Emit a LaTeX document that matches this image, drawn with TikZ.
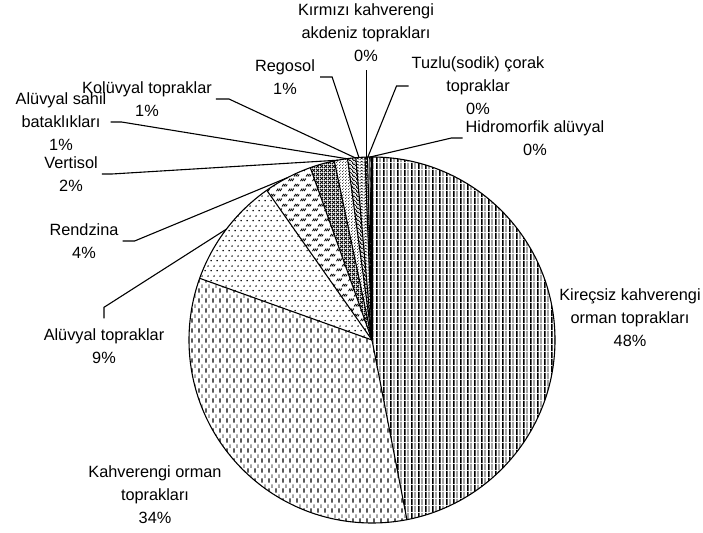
\documentclass[tikz,border=0pt]{standalone}
\usepackage{fontspec}
\setmainfont{Liberation Sans}
\usetikzlibrary{patterns}
% vertical stripes (thick + thin)
\pgfdeclarepatternformonly{kvstripes}{\pgfqpoint{0pt}{0pt}}{\pgfqpoint{6.6pt}{6.6pt}}{\pgfqpoint{6.6pt}{6.6pt}}{%
  \pgfsetlinewidth{1.6pt}%
  \pgfpathmoveto{\pgfqpoint{1pt}{0pt}}\pgfpathlineto{\pgfqpoint{1pt}{6.6pt}}\pgfusepath{stroke}%
  \pgfsetlinewidth{0.8pt}%
  \pgfpathmoveto{\pgfqpoint{4.3pt}{0pt}}\pgfpathlineto{\pgfqpoint{4.3pt}{6.6pt}}\pgfusepath{stroke}}
% dashed vertical
\pgfdeclarepatternformonly{kdashv}{\pgfqpoint{0pt}{0pt}}{\pgfqpoint{6.6pt}{10pt}}{\pgfqpoint{6.6pt}{10pt}}{%
  \pgfsetlinewidth{1.3pt}%
  \pgfpathmoveto{\pgfqpoint{1pt}{0.5pt}}\pgfpathlineto{\pgfqpoint{1pt}{5pt}}\pgfusepath{stroke}%
  \pgfsetlinewidth{0.7pt}%
  \pgfpathmoveto{\pgfqpoint{4.3pt}{5.5pt}}\pgfpathlineto{\pgfqpoint{4.3pt}{9.5pt}}\pgfusepath{stroke}}
% dots
\pgfdeclarepatternformonly{kdots}{\pgfqpoint{0pt}{0pt}}{\pgfqpoint{6.4pt}{10pt}}{\pgfqpoint{6.4pt}{10pt}}{%
  \pgfpathcircle{\pgfqpoint{1.2pt}{1.5pt}}{0.9pt}%
  \pgfpathcircle{\pgfqpoint{4.4pt}{6.5pt}}{0.9pt}%
  \pgfusepath{fill}}
% dashed upward diagonal
\pgfdeclarepatternformonly{kdiagdash}{\pgfqpoint{0pt}{0pt}}{\pgfqpoint{12pt}{10pt}}{\pgfqpoint{12pt}{10pt}}{%
  \pgfsetlinewidth{0.9pt}%
  \pgfpathmoveto{\pgfqpoint{0.5pt}{1pt}}\pgfpathlineto{\pgfqpoint{2.3pt}{3.8pt}}%
  \pgfpathmoveto{\pgfqpoint{2.5pt}{1pt}}\pgfpathlineto{\pgfqpoint{4.3pt}{3.8pt}}%
  \pgfpathmoveto{\pgfqpoint{4.5pt}{1pt}}\pgfpathlineto{\pgfqpoint{6.3pt}{3.8pt}}%
  \pgfpathmoveto{\pgfqpoint{6.5pt}{6pt}}\pgfpathlineto{\pgfqpoint{8.3pt}{8.8pt}}%
  \pgfpathmoveto{\pgfqpoint{8.5pt}{6pt}}\pgfpathlineto{\pgfqpoint{10.3pt}{8.8pt}}%
  \pgfpathmoveto{\pgfqpoint{10.5pt}{6pt}}\pgfpathlineto{\pgfqpoint{12pt}{8.3pt}}%
  \pgfusepath{stroke}}
% dark crosshatch
\pgfdeclarepatternformonly{kcross}{\pgfqpoint{0pt}{0pt}}{\pgfqpoint{4pt}{4pt}}{\pgfqpoint{4pt}{4pt}}{%
  \pgfsetlinewidth{1.1pt}%
  \pgfpathmoveto{\pgfqpoint{0pt}{0pt}}\pgfpathlineto{\pgfqpoint{4pt}{4pt}}%
  \pgfpathmoveto{\pgfqpoint{0pt}{4pt}}\pgfpathlineto{\pgfqpoint{4pt}{0pt}}%
  \pgfusepath{stroke}}
% light dotted grid
\pgfdeclarepatternformonly{ksahil}{\pgfqpoint{0pt}{0pt}}{\pgfqpoint{3pt}{3pt}}{\pgfqpoint{3pt}{3pt}}{%
  \pgfpathcircle{\pgfqpoint{0.75pt}{0.75pt}}{0.6pt}%
  \pgfpathcircle{\pgfqpoint{2.25pt}{2.25pt}}{0.6pt}%
  \pgfusepath{fill}}
% wide downward diagonal
\pgfdeclarepatternformonly{knw}{\pgfqpoint{0pt}{0pt}}{\pgfqpoint{3.5pt}{3.5pt}}{\pgfqpoint{3.5pt}{3.5pt}}{%
  \pgfsetlinewidth{0.9pt}%
  \pgfpathmoveto{\pgfqpoint{0pt}{3.5pt}}\pgfpathlineto{\pgfqpoint{3.5pt}{0pt}}%
  \pgfpathmoveto{\pgfqpoint{-1pt}{1pt}}\pgfpathlineto{\pgfqpoint{1pt}{-1pt}}%
  \pgfpathmoveto{\pgfqpoint{2.5pt}{4.5pt}}\pgfpathlineto{\pgfqpoint{4.5pt}{2.5pt}}%
  \pgfusepath{stroke}}
% chevron
\pgfdeclarepatternformonly{kchev}{\pgfqpoint{0pt}{0pt}}{\pgfqpoint{4pt}{3pt}}{\pgfqpoint{4pt}{3pt}}{%
  \pgfsetlinewidth{0.7pt}%
  \pgfpathmoveto{\pgfqpoint{0pt}{0.6pt}}\pgfpathlineto{\pgfqpoint{2pt}{2.4pt}}\pgfpathlineto{\pgfqpoint{4pt}{0.6pt}}%
  \pgfusepath{stroke}}
\newcommand\mkslice[3]{%
  \fill[pattern=#3] (C) -- ++(#1:183pt) arc[start angle=#1, end angle=#2, radius=183pt] -- cycle;}
\begin{document}
\begin{tikzpicture}[x=1pt,y=1pt,
  lbl/.style={align=center,inner sep=0pt,font=\fontsize{16.3}{23}\selectfont},
  leader/.style={line width=1.1pt},
  pieedge/.style={line width=1.1pt}]
\useasboundingbox (0,0) rectangle (703,532);
\fill[white] (0,0) rectangle (703,532);
\coordinate (C) at (372,192);
% slices (clockwise from 12 o'clock)
\mkslice{90}{-79}{kvstripes}
\mkslice{-79}{-199.7}{kdashv}
\mkslice{-199.7}{-234.9}{kdots}
\mkslice{-234.9}{-250.3}{kdiagdash}
\mkslice{-250.3}{-258.1}{kcross}
\mkslice{-258.1}{-262.3}{ksahil}
\mkslice{-262.3}{-264.9}{knw}
\mkslice{-264.9}{-267.8}{kchev}
\mkslice{-267.8}{-268.6}{kcross}
\mkslice{-268.6}{-269.3}{kvstripes}
\mkslice{-269.3}{-270}{kdashv}
\foreach \a in {90,-79,-199.7,-234.9,-250.3,-258.1,-262.3,-264.9,-267.8,-268.6,-269.3}
  \draw[pieedge] (C) -- ++(\a:183pt);
\draw[pieedge] (C) circle[radius=183pt];
% leader end points on the pie
\path (C) ++(100.7:183pt) coordinate (pVert);
\path (C) ++(97.9:183pt) coordinate (pSahil);
\path (C) ++(95.3:183pt) coordinate (pKol);
\path (C) ++(94.1:183pt) coordinate (pReg);
\path (C) ++(91.6:183pt) coordinate (pKir);
\path (C) ++(91.3:183pt) coordinate (pTuz);
\path (C) ++(90.6:183pt) coordinate (pHid);
\path (C) ++(117.4:183pt) coordinate (pRend);
\path (C) ++(142.7:183pt) coordinate (pAlu);
% labels
\node[lbl] (kir) at (366,499) {Kırmızı kahverengi\\akdeniz toprakları\\0\%};
\node[lbl] (tuz) at (478,446) {Tuzlu(sodik) çorak\\topraklar\\0\%};
\node[lbl] (hid) at (535,394) {Hidromorfik alüvyal\\0\%};
\node[lbl] (reg) at (285,455) {Regosol\\1\%};
\node[lbl] (kol) at (147,433) {Kolüvyal topraklar\\1\%};
\node[lbl] (sahil) at (61,410) {Alüvyal sahil\\bataklıkları\\1\%};
\node[lbl] (vert) at (71,358) {Vertisol\\2\%};
\node[lbl] (rend) at (84,291) {Rendzina\\4\%};
\node[lbl] (alu) at (104,186) {Alüvyal topraklar\\9\%};
\node[lbl] (kirecsiz) at (630,214) {Kireçsiz kahverengi\\orman toprakları\\48\%};
\node[lbl] (kahve) at (155,37) {Kahverengi orman\\toprakları\\34\%};
% leaders
\draw[leader] ([xshift=4pt]vert.east) -- ++(10,0) -- (pVert);
\draw[leader] ([xshift=4pt]sahil.east) -- ++(11,0) -- (pSahil);
\draw[leader] ([xshift=4pt]kol.east) -- ++(13,0) -- (pKol);
\draw[leader] ([xshift=5pt]reg.east) -- ++(12,0) -- (pReg);
\draw[leader] (pKir |- kir.south) ++(0,-8) -- (pKir);
\draw[leader] ([xshift=-3pt]tuz.west) -- ++(-12,0) -- (pTuz);
\draw[leader] ([xshift=-3pt]hid.west) -- ++(-11,0) -- (pHid);
\draw[leader] ([xshift=4pt]rend.east) -- ++(12,0) -- (pRend);
\draw[leader] ([yshift=10pt]alu.north) -- ++(0,11) -- (pAlu);
\end{tikzpicture}
\end{document}
